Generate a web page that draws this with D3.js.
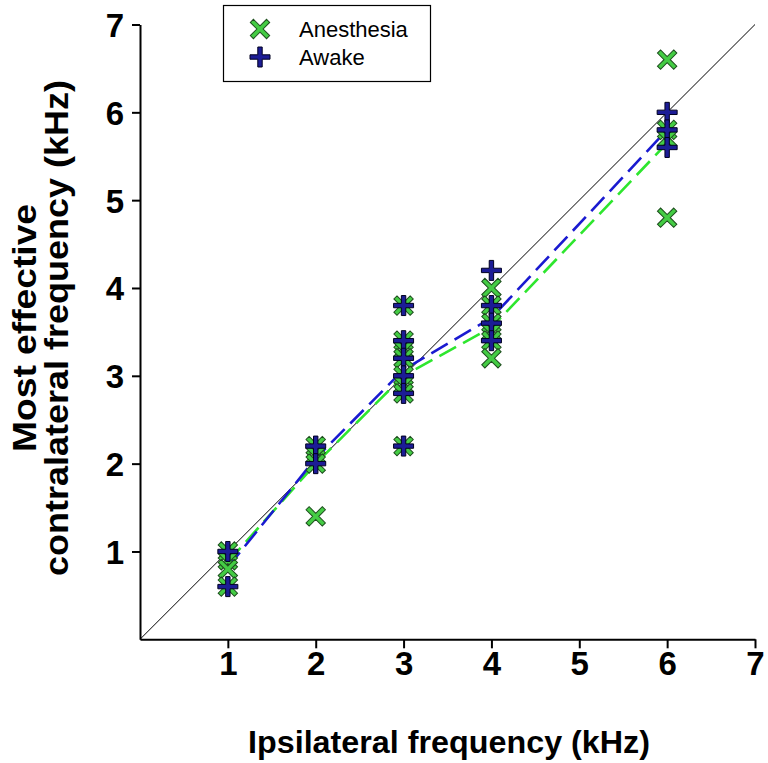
<!DOCTYPE html>
<html><head><meta charset="utf-8">
<script src="https://cdn.jsdelivr.net/npm/d3@7"></script>
<style>body{margin:0;background:#fff}svg{display:block}</style>
</head><body>
<svg id="c" width="768" height="763"></svg>
<script>
const anesthesiaX = [1,1,1,1, 2,2,2,2, 3,3,3,3,3,3,3,3, 4,4,4,4,4,4, 6,6,6,6];
const anesthesiaY = [1.0,0.9,0.8,0.6, 2.2,2.1,2.0,1.4, 3.8,3.4,3.3,3.2,3.0,2.9,2.8,2.2, 4.0,3.8,3.6,3.5,3.4,3.2, 6.6,5.8,5.7,4.8];
const awakeX = [1,1, 2,2, 3,3,3,3,3,3, 4,4,4,4, 6,6,6];
const awakeY = [1.0,0.6, 2.2,2.0, 3.8,3.4,3.2,3.0,2.8,2.2, 4.2,3.8,3.6,3.4, 6.0,5.8,5.6];
const meanX = [1,2,3,4,6];
const anesthesiaMean = [0.88,2.0,3.0,3.55,5.65];
const awakeMean = [0.82,2.06,3.07,3.66,5.8];
const xTicks = [1,2,3,4,5,6,7];
const yTicks = [1,2,3,4,5,6,7];

const FONT = 'Liberation Sans, Arial, sans-serif';
const svg = d3.select('#c');
const x = d3.scaleLinear().domain([0,7]).range([140,755]);
const y = d3.scaleLinear().domain([0,7]).range([639.3,24.5]);

// identity line
svg.append('line').attr('x1',x(0)).attr('y1',y(0)).attr('x2',x(7)).attr('y2',y(7))
  .attr('stroke','#000').attr('stroke-width',1);

const line = d3.line().x((d,i)=>x(meanX[i])).y(d=>y(d));
svg.append('path').attr('d',line(anesthesiaMean)).attr('fill','none')
  .attr('stroke','#2ee62e').attr('stroke-width',2.6).attr('stroke-dasharray','19,8');
svg.append('path').attr('d',line(awakeMean)).attr('fill','none')
  .attr('stroke','#1a1ad0').attr('stroke-width',2.6).attr('stroke-dasharray','19,8');

// marker paths
function cross(L,w){return `M${-w},${-L}H${w}V${-w}H${L}V${w}H${w}V${L}H${-w}V${w}H${-L}V${-w}H${-w}Z`;}
const xPath = cross(11.5,2.2);
const plusPath = cross(10,2.2);
const green = '#44cc44', greenEdge = '#1d4d1d', navy = '#1c1c96', navyEdge = '#000020';

const gA = svg.append('g');
anesthesiaX.forEach((xv,i)=>{
  gA.append('path').attr('d',xPath)
    .attr('transform',`translate(${x(xv)},${y(anesthesiaY[i])}) rotate(45)`)
    .attr('fill',green).attr('stroke',greenEdge).attr('stroke-width',1);
});
const gW = svg.append('g');
awakeX.forEach((xv,i)=>{
  gW.append('path').attr('d',plusPath)
    .attr('transform',`translate(${x(xv)},${y(awakeY[i])})`)
    .attr('fill',navy).attr('stroke',navyEdge).attr('stroke-width',1);
});

// axes
const xAxis = d3.axisBottom(x).tickValues(xTicks).tickSize(9).tickSizeOuter(0).tickPadding(2).tickFormat(d3.format('d'));
const yAxis = d3.axisLeft(y).tickValues(yTicks).tickSize(8).tickSizeOuter(0).tickPadding(8).tickFormat(d3.format('d'));
const gx = svg.append('g').attr('transform',`translate(0,${y(0)})`).call(xAxis);
const gy = svg.append('g').attr('transform',`translate(${x(0)},0)`).call(yAxis);
[gx,gy].forEach(g=>{
  g.selectAll('path,line').attr('stroke','#000').attr('stroke-width',2);
  g.selectAll('text').attr('font-family',FONT)
   .attr('font-weight','bold').attr('font-size',33).attr('fill','#000');
});
gx.selectAll('text').attr('dy','0.75em');
gy.selectAll('text').attr('dy','0.36em');

// axis titles
svg.append('text').attr('x',449).attr('y',753).attr('text-anchor','middle')
  .attr('font-family',FONT).attr('font-weight','bold')
  .attr('font-size',32).attr('textLength',402).attr('lengthAdjust','spacingAndGlyphs')
  .text('Ipsilateral frequency (kHz)');
const yt = svg.append('g').attr('transform','translate(0,328) rotate(-90)');
yt.append('text').attr('x',0).attr('y',36).attr('text-anchor','middle')
  .attr('font-family',FONT).attr('font-weight','bold').attr('font-size',33)
  .attr('textLength',248).attr('lengthAdjust','spacingAndGlyphs').text('Most effective');
yt.append('text').attr('x',0).attr('y',68).attr('text-anchor','middle')
  .attr('font-family',FONT).attr('font-weight','bold').attr('font-size',33)
  .attr('textLength',496).attr('lengthAdjust','spacingAndGlyphs').text('contralateral frequency (kHz)');

// legend
const lg = svg.append('g');
lg.append('rect').attr('x',223.5).attr('y',5.5).attr('width',207).attr('height',76)
  .attr('fill','#fff').attr('stroke','#000').attr('stroke-width',1.2);
lg.append('path').attr('d',xPath).attr('transform','translate(260,29) rotate(45)')
  .attr('fill',green).attr('stroke',greenEdge).attr('stroke-width',1);
lg.append('path').attr('d',plusPath).attr('transform','translate(260,57)')
  .attr('fill',navy).attr('stroke',navyEdge).attr('stroke-width',1);
lg.append('text').attr('x',299).attr('y',37).attr('font-family',FONT)
  .attr('font-size',22).text('Anesthesia');
lg.append('text').attr('x',299).attr('y',65).attr('font-family',FONT)
  .attr('font-size',22).text('Awake');
</script>
</body></html>
